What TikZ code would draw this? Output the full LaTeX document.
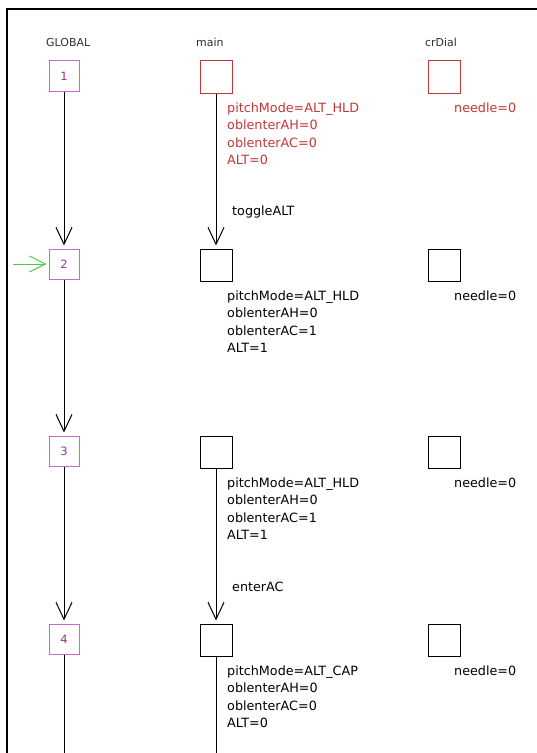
\documentclass[tikz,border=0pt]{standalone}
\usepackage{fontspec}
\setmainfont{DejaVu Sans}
\usetikzlibrary{arrows.meta}
\definecolor{mag}{RGB}{210,100,210}
\definecolor{magtext}{RGB}{150,50,160}
\definecolor{redc}{RGB}{195,55,55}
\definecolor{grn}{RGB}{70,200,70}
\definecolor{headc}{RGB}{50,50,50}
\begin{document}
\begin{tikzpicture}[x=1bp,y=-1bp,
  gbox/.style={draw=mag,line width=1bp,minimum width=30bp,minimum height=30bp,inner sep=0,text=magtext,font=\fontsize{11.5}{13}\selectfont},
  sbox/.style={draw=#1,line width=1bp,minimum width=32bp,minimum height=32bp,inner sep=0},
  lbl/.style={anchor=base west,inner sep=0,font=\fontsize{12.8}{15}\selectfont},
  head/.style={anchor=base west,inner sep=0,text=headc,font=\fontsize{11}{13}\selectfont},
  flow/.style={line width=1bp,-{Straight Barb[length=17bp,width=16bp,line width=1bp]},shorten >=3bp},
  plain/.style={line width=1bp}]
\useasboundingbox (0,0) rectangle (537,753);
\fill[white] (0,0) rectangle (537,753);
% frame
\coordinate (fbl) at (7,753);
\coordinate (ftl) at (7,9);
\coordinate (ftr) at (537,9);
\draw[line width=2bp] (fbl) -- (ftl) -- (ftr);
% headers
\node[head] (hglobal) at (46,47) {GLOBAL};
\node[head] (hmain) at (196,47) {main};
\node[head] (hcr) at (425,47) {crDial};
% GLOBAL column
\node[gbox] (g1) at (64,76) {1};
\node[gbox] (g2) at (64,264) {2};
\node[gbox] (g3) at (64,451) {3};
\node[gbox] (g4) at (64,639) {4};
\coordinate (gend) at (64,753);
\draw[flow] (g1) -- (g2);
\draw[flow] (g2) -- (g3);
\draw[flow] (g3) -- (g4);
\draw[plain] (g4) -- (gend);
\coordinate (gstart) at (13,264);
\draw[line width=1bp,draw=grn,-{Straight Barb[length=16bp,width=16bp,line width=1bp]},shorten >=2bp] (gstart) -- (g2.west);
% main column
\node[sbox=redc] (m1) at (216,77) {};
\node[sbox=black] (m2) at (216,265) {};
\node[sbox=black] (m3) at (216,452) {};
\node[sbox=black] (m4) at (216,640) {};
\coordinate (mend) at (216,753);
\draw[flow] (m1) -- (m2);
\draw[flow] (m3) -- (m4);
\draw[plain] (m4) -- (mend);
\node[lbl] (tALT) at (232,215) {toggleALT};
\node[lbl] (eAC) at (232,591) {enterAC};
% main states
\begin{scope}[every node/.style={lbl}]
\node[text=redc] (a1) at (227,112) {pitchMode=ALT\_HLD};
\node[text=redc] (b1) at (227,129.5) {oblenterAH=0};
\node[text=redc] (c1) at (227,147) {oblenterAC=0};
\node[text=redc] (d1) at (227,164) {ALT=0};
\node (a2) at (227,300) {pitchMode=ALT\_HLD};
\node (b2) at (227,317.5) {oblenterAH=0};
\node (c2) at (227,335) {oblenterAC=1};
\node (d2) at (227,352) {ALT=1};
\node (a3) at (227,487) {pitchMode=ALT\_HLD};
\node (b3) at (227,504.5) {oblenterAH=0};
\node (c3) at (227,522) {oblenterAC=1};
\node (d3) at (227,539) {ALT=1};
\node (a4) at (227,675) {pitchMode=ALT\_CAP};
\node (b4) at (227,692.5) {oblenterAH=0};
\node (c4) at (227,710) {oblenterAC=0};
\node (d4) at (227,727) {ALT=0};
\end{scope}
% crDial column
\node[sbox=redc] (c1box) at (444,77) {};
\node[sbox=black] (c2box) at (444,265) {};
\node[sbox=black] (c3box) at (444,452) {};
\node[sbox=black] (c4box) at (444,640) {};
\node[lbl,text=redc] (n1) at (454,112) {needle=0};
\node[lbl] (n2) at (454,300) {needle=0};
\node[lbl] (n3) at (454,487) {needle=0};
\node[lbl] (n4) at (454,675) {needle=0};
\end{tikzpicture}
\end{document}
